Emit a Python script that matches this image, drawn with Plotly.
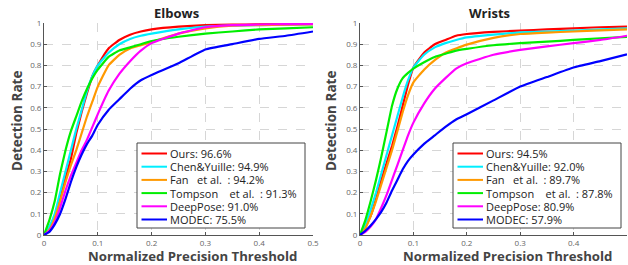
import plotly.graph_objects as go

# ---------------- data ----------------
THRESH = [0, 0.01, 0.02, 0.03, 0.04, 0.05, 0.06, 0.07, 0.08, 0.09, 0.10,
          0.12, 0.14, 0.16, 0.18, 0.20, 0.25, 0.30, 0.35, 0.40, 0.45, 0.50]

METHODS = ["Ours", "Chen&Yuille", "Fan", "Tompson", "DeepPose", "MODEC"]

elbow_ours = [0, 0.03, 0.09, 0.18, 0.27, 0.36, 0.48, 0.58, 0.67, 0.75, 0.80,
              0.88, 0.92, 0.945, 0.96, 0.97, 0.983, 0.99, 0.992, 0.994, 0.995, 0.996]
elbow_chen = [0, 0.04, 0.10, 0.20, 0.30, 0.40, 0.50, 0.59, 0.68, 0.75, 0.80,
              0.86, 0.90, 0.925, 0.94, 0.95, 0.97, 0.983, 0.988, 0.99, 0.992, 0.993]
elbow_fan = [0, 0.025, 0.08, 0.16, 0.25, 0.33, 0.40, 0.48, 0.56, 0.63, 0.70,
             0.80, 0.85, 0.88, 0.895, 0.91, 0.95, 0.975, 0.988, 0.99, 0.992, 0.993]
elbow_tompson = [0, 0.07, 0.16, 0.29, 0.40, 0.49, 0.56, 0.63, 0.69, 0.74, 0.78,
                 0.84, 0.87, 0.885, 0.90, 0.915, 0.935, 0.95, 0.96, 0.97, 0.975, 0.98]
elbow_deeppose = [0, 0.02, 0.06, 0.13, 0.21, 0.28, 0.34, 0.40, 0.45, 0.51, 0.57,
                  0.68, 0.76, 0.82, 0.87, 0.905, 0.95, 0.98, 0.99, 0.993, 0.995, 0.996]
elbow_modec = [0, 0.015, 0.05, 0.10, 0.17, 0.25, 0.32, 0.38, 0.43, 0.47, 0.52,
               0.59, 0.64, 0.69, 0.73, 0.755, 0.81, 0.875, 0.90, 0.925, 0.94, 0.96]

wrist_ours = [0, 0.04, 0.09, 0.17, 0.26, 0.34, 0.42, 0.51, 0.61, 0.71, 0.79,
              0.86, 0.90, 0.92, 0.94, 0.948, 0.958, 0.964, 0.97, 0.975, 0.98, 0.983]
wrist_chen = [0, 0.05, 0.12, 0.20, 0.29, 0.38, 0.47, 0.56, 0.65, 0.73, 0.79,
              0.85, 0.885, 0.905, 0.92, 0.932, 0.945, 0.956, 0.96, 0.964, 0.97, 0.975]
wrist_fan = [0, 0.03, 0.09, 0.16, 0.24, 0.32, 0.40, 0.49, 0.58, 0.66, 0.72,
             0.78, 0.825, 0.86, 0.88, 0.898, 0.93, 0.948, 0.955, 0.96, 0.965, 0.97]
wrist_tompson = [0, 0.07, 0.16, 0.26, 0.37, 0.49, 0.61, 0.69, 0.74, 0.765, 0.785,
                 0.815, 0.84, 0.855, 0.87, 0.878, 0.895, 0.905, 0.912, 0.92, 0.928, 0.935]
wrist_deeppose = [0, 0.015, 0.04, 0.075, 0.13, 0.19, 0.26, 0.33, 0.40, 0.47, 0.53,
                  0.62, 0.69, 0.74, 0.785, 0.81, 0.85, 0.873, 0.89, 0.905, 0.92, 0.94]
wrist_modec = [0, 0.02, 0.045, 0.075, 0.11, 0.155, 0.21, 0.26, 0.31, 0.35, 0.38,
               0.43, 0.47, 0.51, 0.545, 0.57, 0.635, 0.70, 0.745, 0.79, 0.82, 0.852]

elbow_labels = ["Ours: 96.6%", "Chen&Yuille: 94.9%", "Fan\u00a0\u00a0 et al.\u00a0\u00a0: 94.2%",
                "Tompson\u00a0\u00a0\u00a0 et al.\u00a0\u00a0: 91.3%", "DeepPose: 91.0%", "MODEC: 75.5%"]
wrist_labels = ["Ours: 94.5%", "Chen&Yuille: 92.0%", "Fan\u00a0\u00a0 et al.\u00a0\u00a0: 89.7%",
                "Tompson\u00a0\u00a0\u00a0 et al.\u00a0\u00a0: 87.8%", "DeepPose: 80.9%", "MODEC: 57.9%"]

X_TICKS = [0, 0.1, 0.2, 0.3, 0.4, 0.5]
X_TICK_TEXT = ["0", "0.1", "0.2", "0.3", "0.4", "0.5"]
Y_TICKS = [0, 0.1, 0.2, 0.3, 0.4, 0.5, 0.6, 0.7, 0.8, 0.9, 1.0]
Y_TICK_TEXT = ["0", "0.1", "0.2", "0.3", "0.4", "0.5", "0.6", "0.7", "0.8", "0.9", "1"]

COLORS = ["#ff0000", "#00eeff", "#ff9900", "#00ee00", "#ff00ff", "#0000ff"]

W, H = 628, 265
FONT = "Open Sans"


def px(x):
    return x / W


def py(y):
    return 1 - y / H


fig = go.Figure()

elbow_series = [elbow_ours, elbow_chen, elbow_fan, elbow_tompson, elbow_deeppose, elbow_modec]
wrist_series = [wrist_ours, wrist_chen, wrist_fan, wrist_tompson, wrist_deeppose, wrist_modec]

for name, ys, c in zip(METHODS, elbow_series, COLORS):
    fig.add_trace(go.Scatter(x=THRESH, y=ys, mode="lines", name=name,
                             line=dict(color=c, width=2.2, shape="spline", smoothing=0.4),
                             xaxis="x", yaxis="y", showlegend=False))
for name, ys, c in zip(METHODS, wrist_series, COLORS):
    fig.add_trace(go.Scatter(x=THRESH, y=ys, mode="lines", name=name,
                             line=dict(color=c, width=2.2, shape="spline", smoothing=0.4),
                             xaxis="x2", yaxis="y2", showlegend=False))

axis_common = dict(showline=True, linecolor="#555555", linewidth=1,
                   ticks="inside", ticklen=3, tickcolor="#555555",
                   showgrid=True, gridcolor="#d6d6d6", griddash="dash", gridwidth=1,
                   zeroline=False, automargin=False,
                   tickfont=dict(family=FONT, size=8, color="#666666"))

y_dom = [py(235), py(23)]
fig.update_layout(
    width=W, height=H, margin=dict(l=0, r=0, t=0, b=0, autoexpand=False),
    paper_bgcolor="white", plot_bgcolor="white",
    xaxis=dict(domain=[px(44), px(313)], range=[0, 0.5], tickvals=X_TICKS,
               ticktext=X_TICK_TEXT, anchor="y", **axis_common),
    yaxis=dict(domain=y_dom, range=[0, 1], tickvals=Y_TICKS,
               ticktext=Y_TICK_TEXT, anchor="x", **axis_common),
    xaxis2=dict(domain=[px(360), px(627)], range=[0, 0.5], tickvals=X_TICKS,
                ticktext=X_TICK_TEXT, anchor="y2", **axis_common),
    yaxis2=dict(domain=y_dom, range=[0, 1], tickvals=Y_TICKS,
                ticktext=Y_TICK_TEXT, anchor="x2", **axis_common),
    showlegend=False,
)

annotations = []
shapes = []

# titles
for text, cx in [("Elbows", 176), ("Wrists", 489)]:
    annotations.append(dict(text="<b>%s</b>" % text, x=px(cx), y=py(13), xref="paper", yref="paper",
                            showarrow=False, xanchor="center", yanchor="middle",
                            font=dict(family=FONT, size=13, color="#222222")))
# axis titles
for cx in [192, 507]:
    annotations.append(dict(text="<b>Normalized Precision Threshold</b>", x=px(cx), y=py(256),
                            xref="paper", yref="paper", showarrow=False,
                            xanchor="center", yanchor="middle",
                            font=dict(family=FONT, size=13.2, color="#444444")))
for cx in [17, 331]:
    annotations.append(dict(text="<b>Detection Rate</b>", x=px(cx), y=py(121),
                            xref="paper", yref="paper", showarrow=False, textangle=-90,
                            xanchor="center", yanchor="middle",
                            font=dict(family=FONT, size=13.5, color="#444444")))

# legends
ROW0, ROW_STEP = 153.5, 13.2
for bx, labels in [(137, elbow_labels), (453, wrist_labels)]:
    shapes.append(dict(type="rect", xref="paper", yref="paper",
                       x0=px(bx), x1=px(bx + 168), y0=py(228), y1=py(143),
                       line=dict(color="#444444", width=1), fillcolor="white", layer="above"))
    for i, (lab, c) in enumerate(zip(labels, COLORS)):
        yy = ROW0 + i * ROW_STEP
        shapes.append(dict(type="line", xref="paper", yref="paper",
                           x0=px(bx + 4.5), x1=px(bx + 30), y0=py(yy), y1=py(yy),
                           line=dict(color=c, width=2), layer="above"))
        annotations.append(dict(text=lab, x=px(bx + 31), y=py(yy), xref="paper", yref="paper",
                                showarrow=False, xanchor="left", yanchor="middle",
                                font=dict(family=FONT, size=11, color="#222222")))

fig.update_layout(annotations=annotations, shapes=shapes)
fig.write_html("out.html", config={"displayModeBar": False},
               post_script="document.body.style.margin='0px';document.body.style.overflow='hidden';")
